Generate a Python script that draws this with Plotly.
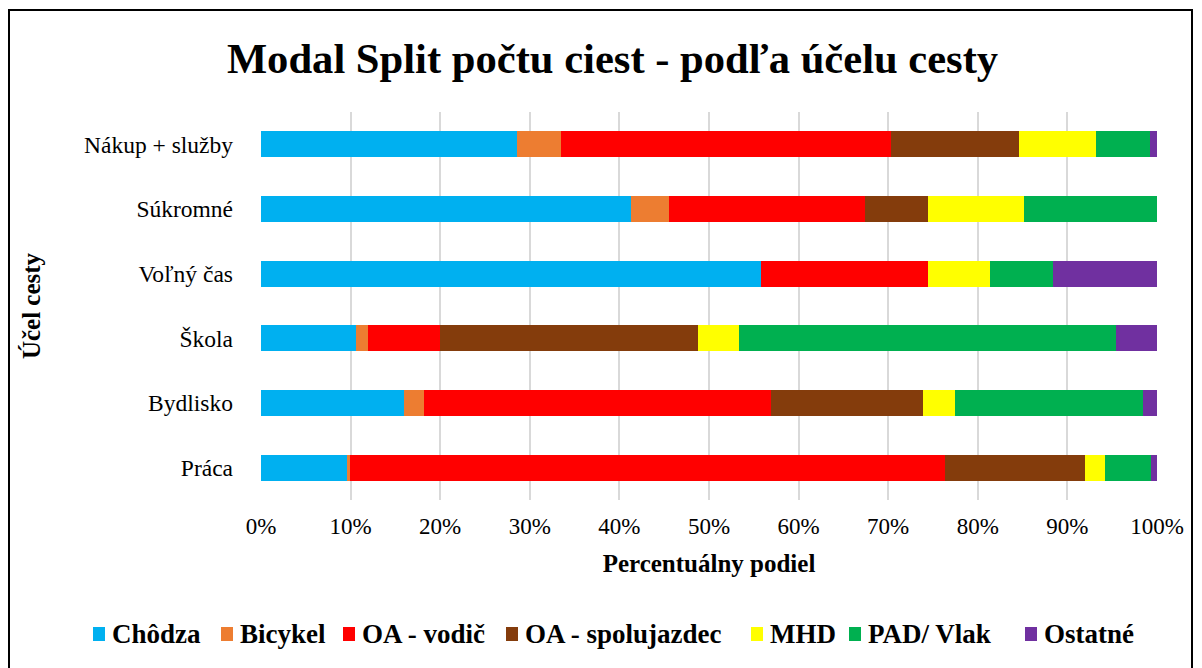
import plotly.graph_objects as go

categories = ["Práca", "Bydlisko", "Škola", "Voľný čas", "Súkromné", "Nákup + služby"]
series_names = ["Chôdza", "Bicykel", "OA - vodič", "OA - spolujazdec", "MHD", "PAD/ Vlak", "Ostatné"]
colors = ["#00B0F0", "#ED7D31", "#FF0000", "#843C0C", "#FFFF00", "#00B050", "#7030A0"]

chodza      = [9.6, 16.0, 10.6, 55.8, 41.3, 28.6]
bicykel     = [0.3, 2.2, 1.3, 0.0, 4.2, 4.9]
oa_vodic    = [66.4, 38.7, 8.1, 18.6, 21.9, 36.8]
oa_spoluj   = [15.7, 17.0, 28.8, 0.0, 7.0, 14.3]
mhd         = [2.2, 3.5, 4.5, 7.0, 10.7, 8.6]
pad_vlak    = [5.1, 21.0, 42.1, 7.0, 14.9, 6.0]
ostatne     = [0.7, 1.6, 4.6, 11.6, 0.0, 0.8]

series_values = [chodza, bicykel, oa_vodic, oa_spoluj, mhd, pad_vlak, ostatne]
tick_vals = [0, 10, 20, 30, 40, 50, 60, 70, 80, 90, 100]
tick_text = [f"{v}%" for v in tick_vals]

# legend text left positions (pixels), layout only
legend_text_x = [112, 240, 362, 525, 770, 868, 1044]

FONT = "Liberation Serif, Times New Roman, serif"
W, H = 1202, 668
ML, MR, MT, MB = 261, 45, 112, 168
PW, PH = W - ML - MR, H - MT - MB


def px_x(x):
    return (x - ML) / PW


def px_y(y):
    return (H - MB - y) / PH


fig = go.Figure()
for name, vals, col in zip(series_names, series_values, colors):
    fig.add_trace(go.Bar(
        y=categories, x=vals, name=name, orientation="h",
        marker=dict(color=col, line=dict(width=0)), showlegend=False,
    ))

fig.update_layout(
    barmode="stack",
    bargap=0.6,
    width=W, height=H,
    paper_bgcolor="white", plot_bgcolor="white",
    font=dict(family=FONT, color="black", size=23),
    margin=dict(l=ML, r=MR, t=MT, b=MB, autoexpand=False),
    title=dict(text="<b>Modal Split počtu ciest - podľa účelu cesty</b>",
               x=0.5096, xanchor="center", y=0.913, yanchor="middle",
               font=dict(family=FONT, size=42.6, color="black")),
    xaxis=dict(range=[0, 100], tickvals=tick_vals, ticktext=tick_text,
               showgrid=True, gridcolor="#D9D9D9", gridwidth=1.5,
               zeroline=False, showline=False, ticks="",
               tickfont=dict(size=23), ticklabelstandoff=10,
               title=dict(text="<b>Percentuálny podiel</b>", font=dict(size=25), standoff=16)),
    yaxis=dict(categoryorder="array", categoryarray=categories,
               showgrid=False, zeroline=False, showline=False, ticks="",
               tickfont=dict(size=23.5), ticklabelstandoff=27,
               title=dict(text="<b>Účel cesty</b>", font=dict(size=25), standoff=36)),
    showlegend=False,
)

# custom single-row legend
ly = 634
for name, col, tx in zip(series_names, colors, legend_text_x):
    fig.add_shape(type="rect", xref="paper", yref="paper",
                  x0=px_x(tx - 19), x1=px_x(tx - 7), y0=px_y(ly + 7), y1=px_y(ly - 7),
                  line=dict(width=0), fillcolor=col)
    fig.add_annotation(xref="paper", yref="paper", x=px_x(tx - 2), y=px_y(ly),
                       xanchor="left", yanchor="middle", showarrow=False,
                       text=f"<b>{name}</b>", font=dict(family=FONT, size=27, color="black"))

# outer border
fig.add_shape(type="rect", xref="paper", yref="paper",
              x0=px_x(9), x1=px_x(1192), y0=px_y(675), y1=px_y(10),
              line=dict(color="black", width=2))

fig.write_html("out.html", config={"displayModeBar": False},
               post_script="document.body.style.margin='0';window.dispatchEvent(new Event('resize'));")
